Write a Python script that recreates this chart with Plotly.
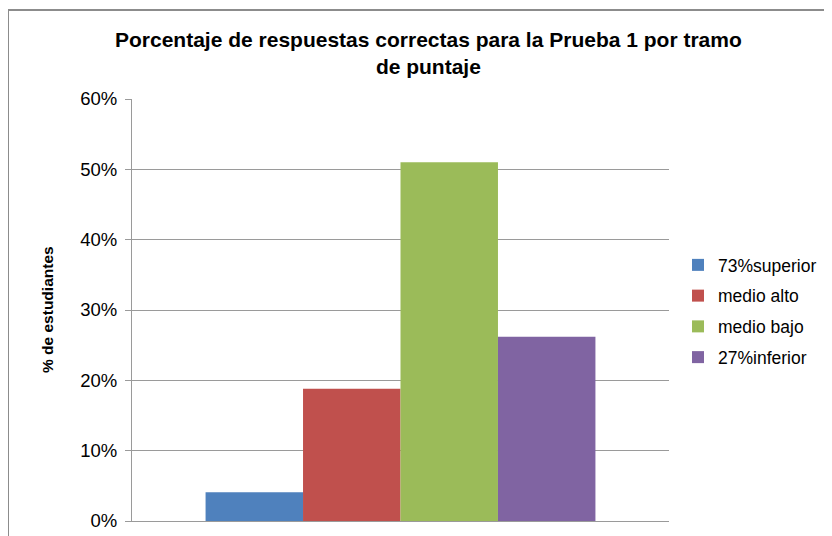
import plotly.graph_objects as go

categories = [""]
series_names = ["73%superior", "medio alto", "medio bajo", "27%inferior"]
series_values = [[0.041], [0.188], [0.510], [0.262]]
series_colors = ["#4F81BD", "#C0504D", "#9BBB59", "#8064A2"]
y_tick_vals = [0, 0.1, 0.2, 0.3, 0.4, 0.5, 0.6]
y_tick_text = ["0%", "10%", "20%", "30%", "40%", "50%", "60%"]
title_text = "Porcentaje de respuestas correctas para la Prueba 1 por tramo<br>de puntaje"
y_title = "% de estudiantes"

FONT = "Liberation Sans, Arial, sans-serif"

fig = go.Figure()
for i, (name, vals, col) in enumerate(zip(series_names, series_values, series_colors)):
    fig.add_trace(go.Bar(
        x=categories, y=vals, name=name, legendgroup=f"g{i}",
        marker=dict(color=col, line=dict(width=0)),
    ))

# page offset (body margin) compensation
OFF = 8
W, H = 832 - OFF, 536 - OFF
L, R, T, B = 132 - OFF, 669 - OFF, 99 - OFF, 521 - OFF
pw, ph = R - L, B - T

def px_x(x):
    return (x - OFF - L) / pw

def px_y(y):
    return (B - (y - OFF)) / ph

fig.update_layout(
    width=W, height=H,
    margin=dict(l=L, r=W - R, t=T, b=H - B, autoexpand=False),
    paper_bgcolor="white", plot_bgcolor="white",
    barmode="group", bargap=0.274, bargroupgap=0,
    font=dict(family=FONT, color="black", size=18),
    showlegend=True,
    legend=dict(
        xref="container", yref="container",
        x=(678 - OFF) / W, xanchor="left", y=1 - (311 - OFF) / H, yanchor="middle",
        font=dict(family=FONT, size=17.5, color="black"),
        tracegroupgap=5, bgcolor="rgba(0,0,0,0)",
    ),
    xaxis=dict(
        range=[-0.5, 0.5], showticklabels=False, showgrid=False, automargin=False,
        showline=True, linecolor="#9a9a9a", linewidth=1, ticks="", zeroline=False,
    ),
    yaxis=dict(
        range=[0, 0.6], tickvals=y_tick_vals, ticktext=y_tick_text, automargin=False,
        showgrid=True, gridcolor="#9a9a9a", gridwidth=1,
        showline=True, linecolor="#9a9a9a", linewidth=1,
        ticks="outside", ticklen=6, tickcolor="#9a9a9a", ticklabelstandoff=4,
        zeroline=False, tickfont=dict(family=FONT, size=18.5, color="black"),
    ),
    shapes=[dict(
        type="rect", xref="paper", yref="paper",
        x0=px_x(8), x1=px_x(900), y0=px_y(600), y1=px_y(10),
        line=dict(color="#8c8c8c", width=2), fillcolor="rgba(0,0,0,0)", layer="below",
    )],
    annotations=[
        dict(text=f"<b>{title_text}</b>", xref="paper", yref="paper",
             x=px_x(428), y=px_y(52.5), xanchor="center", yanchor="middle",
             showarrow=False, font=dict(family=FONT, size=21, color="black")),
        dict(text=f"<b>{y_title}</b>", xref="paper", yref="paper",
             x=px_x(47), y=px_y(310), xanchor="center", yanchor="middle",
             textangle=-90, showarrow=False,
             font=dict(family=FONT, size=15.5, color="black")),
    ],
)

fig.write_html("out.html")
